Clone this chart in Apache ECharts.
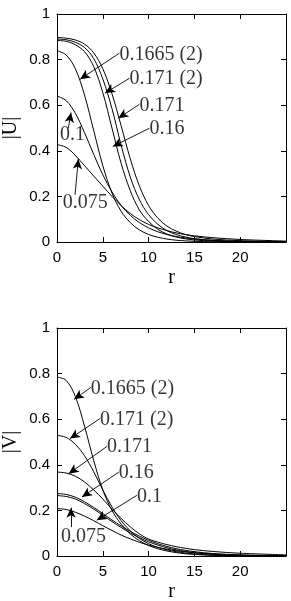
<!DOCTYPE html>
<html>
<head>
<meta charset="utf-8">
<script src="https://cdn.jsdelivr.net/npm/echarts@6/dist/echarts.min.js"></script>
<style>
html,body{margin:0;padding:0;background:#fff;}
#c{width:291px;height:601px;}
</style>
</head>
<body>
<div id="c"></div>
<script>
// radial coordinate samples
const r = [0,1,2,3,4,5,6,7,8,9,10,11,12,13,14,15,17,20,25];

// |U| profiles
const uA = [0.839,0.82,0.76,0.645,0.49,0.335,0.215,0.135,0.085,0.053,0.033,0.021,0.013,0.008,0.005,0.003,0.001,0,0];
const uB = [0.884,0.88,0.865,0.835,0.77,0.655,0.5,0.345,0.225,0.14,0.09,0.056,0.035,0.022,0.014,0.009,0.004,0.001,0];
const uC = [0.89,0.887,0.876,0.853,0.805,0.715,0.585,0.425,0.285,0.185,0.12,0.078,0.05,0.033,0.022,0.015,0.007,0.002,0];
const uD = [0.897,0.894,0.886,0.868,0.83,0.76,0.65,0.51,0.365,0.245,0.16,0.105,0.07,0.048,0.033,0.024,0.013,0.006,0.002];
const uE = [0.64,0.62,0.565,0.48,0.385,0.295,0.22,0.16,0.117,0.085,0.062,0.045,0.033,0.024,0.018,0.013,0.007,0.003,0.001];
const uF = [0.427,0.415,0.38,0.335,0.29,0.245,0.2,0.16,0.125,0.098,0.077,0.062,0.05,0.04,0.033,0.027,0.019,0.011,0.004];

// |V| profiles
const vA = [0.785,0.77,0.70,0.57,0.42,0.29,0.2,0.14,0.097,0.067,0.046,0.032,0.022,0.015,0.01,0.007,0.003,0.001,0];
const vB = [0.529,0.52,0.49,0.44,0.37,0.29,0.215,0.155,0.11,0.077,0.054,0.038,0.027,0.019,0.013,0.009,0.004,0.001,0];
const vC = [0.368,0.364,0.35,0.325,0.29,0.25,0.205,0.165,0.128,0.097,0.074,0.061,0.05,0.041,0.034,0.028,0.02,0.012,0.005];
const vD = [0.274,0.27,0.258,0.238,0.213,0.186,0.158,0.132,0.108,0.087,0.069,0.054,0.042,0.032,0.025,0.019,0.011,0.005,0.001];
const vE = [0.265,0.261,0.25,0.23,0.206,0.179,0.151,0.125,0.101,0.08,0.062,0.048,0.036,0.027,0.02,0.015,0.008,0.003,0.001];
const vF = [0.208,0.204,0.192,0.175,0.155,0.133,0.112,0.092,0.075,0.06,0.048,0.038,0.03,0.023,0.018,0.014,0.008,0.003,0.001];

// annotation texts and anchor points (data space)
const notes = ['0.1665 (2)','0.171 (2)','0.171','0.16','0.1','0.075'];
const uNoteAt = [[6.81,0.82],[7.91,0.714],[9.0,0.597],[10.09,0.495],[0.33,0.47],[0.62,0.171]];
const uArrowFrom = [[6.81,0.828],[7.91,0.718],[9.0,0.604],[10.09,0.499],[1.24,0.499],[1.97,0.207]];
const uArrowTo = [[2.52,0.714],[5.25,0.653],[6.70,0.543],[6.09,0.419],[1.53,0.568],[2.33,0.364]];
const vNoteAt = [[3.69,0.734],[4.70,0.598],[5.47,0.478],[6.75,0.366],[8.72,0.259],[0.44,0.086]];
const vArrowFrom = [[3.69,0.739],[4.70,0.603],[5.47,0.481],[6.75,0.368],[8.72,0.266],[1.53,0.127]];
const vArrowTo = [[1.86,0.687],[1.42,0.515],[1.28,0.361],[2.73,0.259],[4.34,0.157],[1.53,0.212]];

const xName = 'r';
const uName = '|U|';
const vName = '|V|';

const SANS = 'Liberation Sans';
const SERIF = 'Liberation Serif';

function pairs(ys){ return r.map((x,i)=>[x,ys[i]]); }

function xAx(grid, bottom){
  return {
    type:'value', gridIndex:grid, min:0, max:25, interval:5,
    position: bottom ? 'bottom' : 'top',
    name: bottom ? xName : '', nameLocation:'middle', nameGap:26, nameMoveOverlap:false,
    nameTextStyle:{fontFamily:SERIF, fontSize:20, color:'#000'},
    axisLine:{show:true, onZero:false, lineStyle:{color:'#000', width:1}},
    axisTick:{show:true, inside:true, length:5, lineStyle:{color:'#000', width:1}},
    axisLabel:{show:bottom, showMaxLabel:false, margin:8, fontFamily:SANS, fontSize:15, color:'#000'},
    splitLine:{show:false}
  };
}
function yAx(grid, left, name){
  return {
    type:'value', gridIndex:grid, min:0, max:1, interval:0.2,
    position: left ? 'left' : 'right',
    name: left ? name : '', nameLocation:'middle', nameGap:36, nameRotate:90, nameMoveOverlap:false,
    nameTextStyle:{fontFamily:SERIF, fontSize:20, color:'#000'},
    axisLine:{show:true, onZero:false, lineStyle:{color:'#000', width:1}},
    axisTick:{show:true, inside:true, length:5, lineStyle:{color:'#000', width:1}},
    axisLabel:{show:left, margin:7, fontFamily:SANS, fontSize:15, color:'#000'},
    splitLine:{show:false}
  };
}

function curve(ys, xi, yi, extra){
  return Object.assign({
    type:'line', xAxisIndex:xi, yAxisIndex:yi, data:pairs(ys),
    smooth:0.35, symbol:'none', silent:true,
    lineStyle:{color:'#000', width:1}
  }, extra||{});
}

function arrows(from, to){
  return {
    silent:true, symbol:['none','arrow'], symbolSize:[7,10],
    label:{show:false},
    lineStyle:{color:'#000', width:0.9, type:'solid'},
    itemStyle:{color:'#000'},
    data: from.map((f,i)=>[{coord:f},{coord:to[i]}])
  };
}

function textSeries(at, xi, yi){
  return {
    type:'scatter', xAxisIndex:xi, yAxisIndex:yi, symbolSize:0, silent:true,
    data: at.map((p,i)=>({value:p, name:notes[i]})),
    label:{show:true, position:[0,0], align:'left', verticalAlign:'middle', formatter:p=>p.name,
      fontFamily:SERIF, fontSize:20, color:'#000'},
    labelLayout:{hideOverlap:false}
  };
}

const chart = echarts.init(document.getElementById('c'), null, {renderer:'canvas'});
chart.setOption({
  animation:false,
  backgroundColor:'#fff',
  grid:[
    {left:57, top:14, width:229, height:228, show:false, containLabel:false, outerBoundsMode:'none'},
    {left:57, top:328, width:229, height:228, show:false, containLabel:false, outerBoundsMode:'none'}
  ],
  xAxis:[xAx(0,true), xAx(0,false), xAx(1,true), xAx(1,false)],
  yAxis:[yAx(0,true,uName), yAx(0,false,uName), yAx(1,true,vName), yAx(1,false,vName)],
  series:[
    curve(uA,0,0,{markLine:arrows(uArrowFrom,uArrowTo)}),
    curve(uB,0,0), curve(uC,0,0), curve(uD,0,0), curve(uE,0,0), curve(uF,0,0),
    textSeries(uNoteAt,0,0),
    curve(vA,2,2,{markLine:arrows(vArrowFrom,vArrowTo)}),
    curve(vB,2,2), curve(vC,2,2), curve(vD,2,2), curve(vE,2,2), curve(vF,2,2),
    textSeries(vNoteAt,2,2)
  ]
});
</script>
</body>
</html>
